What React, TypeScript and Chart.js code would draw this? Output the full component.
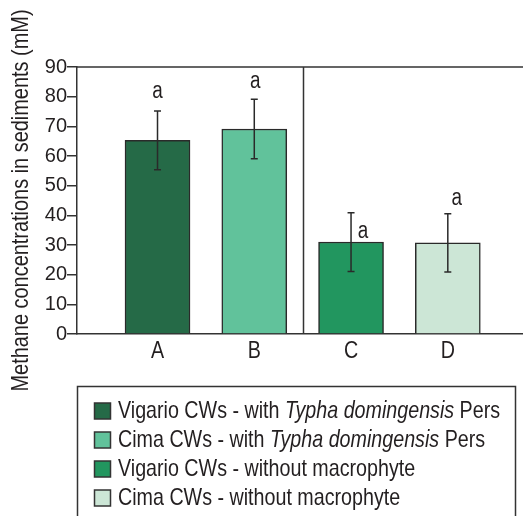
import React, { useEffect, useRef } from "react";
import { Chart, registerables } from "chart.js";

Chart.register(...registerables);

const categories = ["A", "B", "C", "D"];
const means = [65.3, 69.1, 31.0, 30.7];
const errors = [9.9, 10.0, 9.9, 9.8];
const letters = ["a", "a", "a", "a"];
const barColors = ["#256a47", "#61c29b", "#22965f", "#cce6d6"];
const yTitle = "Methane concentrations in sediments (mM)";
const legendLabels = [
  [["Vigario CWs - with ", false], ["Typha domingensis", true], [" Pers", false]],
  [["Cima CWs - with ", false], ["Typha domingensis", true], [" Pers", false]],
  [["Vigario CWs - without macrophyte", false]],
  [["Cima CWs - without macrophyte", false]],
];

const SANS = '"Liberation Sans", Arial, sans-serif';
const NARROW_SCALE = 0.82;
const INK = "#231f20";
const LINE = "#333333";

function narrowText(
  ctx: CanvasRenderingContext2D,
  text: string,
  x: number,
  y: number,
  size: number,
  align: CanvasTextAlign = "center",
  italic = false,
  rotate = 0
) {
  ctx.save();
  ctx.translate(x, y);
  if (rotate) ctx.rotate(rotate);
  ctx.scale(NARROW_SCALE, 1);
  ctx.font = `${italic ? "italic " : ""}${size}px ${SANS}`;
  ctx.textAlign = align;
  ctx.textBaseline = "middle";
  ctx.fillStyle = INK;
  ctx.fillText(text, 0, 0);
  const w = ctx.measureText(text).width * NARROW_SCALE;
  ctx.restore();
  return w;
}

const extras = {
  id: "extras",
  afterDatasetsDraw(chart: any) {
    const { ctx, chartArea, scales } = chart;
    const xs = scales.x;
    const ys = scales.y;
    const meta = chart.getDatasetMeta(0);
    ctx.save();
    // top frame line and divider
    ctx.strokeStyle = LINE;
    ctx.lineWidth = 1.5;
    ctx.beginPath();
    ctx.moveTo(chartArea.left, chartArea.top);
    ctx.lineTo(chartArea.right, chartArea.top);
    const dx = Math.round(xs.getPixelForValue(2.5)) + 0.5;
    ctx.moveTo(dx, chartArea.top);
    ctx.lineTo(dx, chartArea.bottom);
    ctx.stroke();
    // error bars
    ctx.strokeStyle = "#2a2a2a";
    ctx.lineWidth = 1.5;
    means.forEach((m, i) => {
      const x = meta.data[i].x;
      const yt = ys.getPixelForValue(m + errors[i]);
      const yb = ys.getPixelForValue(m - errors[i]);
      ctx.beginPath();
      ctx.moveTo(x, yt);
      ctx.lineTo(x, yb);
      ctx.moveTo(x - 3.5, yt);
      ctx.lineTo(x + 3.5, yt);
      ctx.moveTo(x - 3.5, yb);
      ctx.lineTo(x + 3.5, yb);
      ctx.stroke();
    });
    ctx.restore();
    // significance letters
    const offs: [number, number, string][] = [
      [0, -19, "err"],
      [1, -18, "err"],
      [12, -10, "bar"],
      [9, -15, "err"],
    ];
    letters.forEach((t, i) => {
      const x = meta.data[i].x + offs[i][0];
      const base =
        offs[i][2] === "err"
          ? ys.getPixelForValue(means[i] + errors[i])
          : ys.getPixelForValue(means[i]);
      narrowText(ctx, t, x, base + offs[i][1], 23);
    });
    // x category labels
    categories.forEach((c, i) => {
      narrowText(ctx, c, xs.getPixelForValue(i + 1), chartArea.bottom + 17, 24);
    });
    // y axis title
    narrowText(ctx, yTitle, 21.5, (chartArea.top + chartArea.bottom) / 2, 24.3, "center", false, -Math.PI / 2);
  },
  afterDraw(chart: any) {
    const { ctx } = chart;
    ctx.save();
    ctx.strokeStyle = LINE;
    ctx.lineWidth = 1.5;
    ctx.strokeRect(77.5, 386.5, 438, 160);
    const rowY = [411, 440, 469, 498];
    legendLabels.forEach((segs, i) => {
      const y = rowY[i];
      ctx.fillStyle = barColors[i];
      ctx.fillRect(94.5, y - 8, 16, 16);
      ctx.strokeStyle = LINE;
      ctx.lineWidth = 1.5;
      ctx.strokeRect(94.5, y - 8, 16, 16);
      let x = 118;
      segs.forEach(([t, it]) => {
        x += narrowText(ctx, t as string, x, y, 24, "left", it as boolean);
      });
    });
    ctx.restore();
  },
};

export default function App() {
  const ref = useRef<HTMLCanvasElement>(null);
  useEffect(() => {
    if (!ref.current) return;
    const chart = new Chart(ref.current, {
      type: "bar",
      data: {
        datasets: [
          {
            data: means.map((v, i) => ({ x: i + 1, y: v })),
            backgroundColor: barColors,
            borderColor: "#2a2a2a",
            borderWidth: 1.5,
            barThickness: 65,
          },
        ],
      },
      options: {
        responsive: false,
        animation: false,
        layout: { padding: { top: 67, right: 0, bottom: 0, left: 0 } },
        plugins: { legend: { display: false }, tooltip: { enabled: false } },
        scales: {
          x: {
            type: "linear",
            min: 0.168,
            max: 4.777,
            offset: false,
            afterFit: (s: any) => {
              s.height = 182;
            },
            afterBuildTicks: (s: any) => {
              s.ticks = categories.map((_, i) => ({ value: i + 1 }));
            },
            grid: { display: false, drawTicks: false, offset: false },
            border: { display: true, color: LINE, width: 1.5 },
            ticks: { display: false },
          },
          y: {
            min: 0,
            max: 90,
            afterFit: (s: any) => {
              s.width = 77;
            },
            grid: { drawOnChartArea: false, drawTicks: true, tickLength: 10, color: LINE, lineWidth: 1.5 },
            border: { display: true, color: LINE, width: 1.5 },
            ticks: {
              stepSize: 10,
              font: { family: SANS, size: 20 },
              color: INK,
              padding: 0,
            },
          },
        },
      },
      plugins: [extras],
    });
    return () => chart.destroy();
  }, []);
  return (
    <div style={{ position: "absolute", left: 0, top: 0, width: 523, height: 516, background: "#fff" }}>
      <canvas ref={ref} width={523} height={516} />
    </div>
  );
}
